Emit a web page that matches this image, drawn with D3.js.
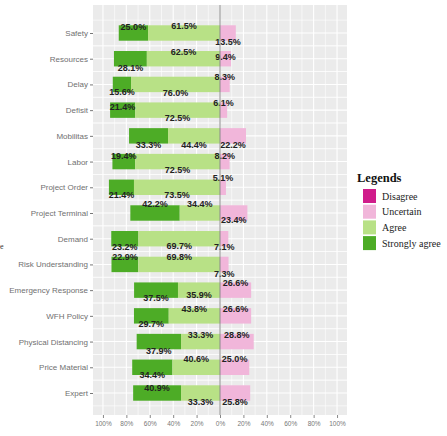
<!DOCTYPE html>
<html>
<head>
<meta charset="utf-8">
<script src="https://cdn.jsdelivr.net/npm/d3@7/dist/d3.min.js"></script>
<style>
  body { margin: 0; background: #fff; }
  svg { display: block; }
</style>
</head>
<body>
<div id="chart"></div>
<script>
// data (percent)
const categories = ["Safety", "Resources", "Delay", "Defisit", "Mobilitas", "Labor", "Project Order",
  "Project Terminal", "Demand", "Risk Understanding", "Emergency Response", "WFH Policy",
  "Physical Distancing", "Price Material", "Expert"];
const stronglyAgree = [25.0, 28.1, 15.6, 21.4, 33.3, 19.4, 21.4, 42.2, 23.2, 22.9, 37.5, 29.7, 37.9, 34.4, 40.9];
const agree         = [61.5, 62.5, 76.0, 72.5, 44.4, 72.5, 73.5, 34.4, 69.7, 69.8, 35.9, 43.8, 33.3, 40.6, 33.3];
const uncertain     = [13.5, 9.4, 8.3, 6.1, 22.2, 8.2, 5.1, 23.4, 7.1, 7.3, 26.6, 26.6, 28.8, 25.0, 25.8];
const disagree      = [0, 0, 0, 0, 0, 0, 0, 0, 0, 0, 0, 0, 0, 0, 0];
const xTicks = [-100, -80, -60, -40, -20, 0, 20, 40, 60, 80, 100];
const legendLabels = ["Disagree", "Uncertain", "Agree", "Strongly agree"];
const colors = { "Disagree": "#d01c8b", "Uncertain": "#f1b6da", "Agree": "#b8e186", "Strongly agree": "#4dac26" };

// vertical nudge of the value labels (px), per row: [strongly agree, agree, uncertain]
const labelNudge = [[-6, -7, 9], [9, -7, -2], [7, 8, -8], [-3, 8, -7], [9, 9, 9], [-6, 8, -6], [8, 8, -9],
  [-9, -9, 7], [8, 7, 8], [-8, -8, 9], [8, 5, -7], [8, -7, -7], [9, -7, -7], [8, -8, -8], [-5, 9, 9]];

const width = 447, height = 436;
const panel = { left: 93, right: 347, top: 5, bottom: 415 };

const svg = d3.select("#chart").append("svg")
  .attr("width", width)
  .attr("height", height)
  .attr("xmlns", "http://www.w3.org/2000/svg");

const x = d3.scaleLinear().domain([-108.5, 108.5]).range([panel.left, panel.right]);
const y = d3.scalePoint().domain(categories).range([33, 393]);
const step = y.step();
const barH = step * 0.6;

// panel background + grid
svg.append("rect")
  .attr("x", panel.left).attr("y", panel.top)
  .attr("width", panel.right - panel.left).attr("height", panel.bottom - panel.top)
  .attr("fill", "#ebebeb");

const grid = svg.append("g");
d3.range(-100, 101, 10).forEach(v => {
  grid.append("line")
    .attr("x1", x(v)).attr("x2", x(v))
    .attr("y1", panel.top).attr("y2", panel.bottom)
    .attr("stroke", "#fff").attr("stroke-width", v % 20 === 0 ? 1.1 : 0.6);
});
categories.forEach(c => {
  [y(c), y(c) - step / 2, y(c) + step / 2].forEach((yy, i) => {
    grid.append("line")
      .attr("x1", panel.left).attr("x2", panel.right)
      .attr("y1", yy).attr("y2", yy)
      .attr("stroke", "#fff").attr("stroke-width", i === 0 ? 1.1 : 0.6);
  });
});

// stacked segments
const rows = categories.map((c, i) => ({
  cat: c,
  segs: [
    { key: "Strongly agree", v: stronglyAgree[i], x0: -(agree[i] + stronglyAgree[i]), x1: -agree[i], nudge: labelNudge[i][0] },
    { key: "Agree", v: agree[i], x0: -agree[i], x1: 0, nudge: labelNudge[i][1] },
    { key: "Uncertain", v: uncertain[i], x0: 0, x1: uncertain[i], nudge: labelNudge[i][2] },
    { key: "Disagree", v: disagree[i], x0: uncertain[i], x1: uncertain[i] + disagree[i], nudge: 0 }
  ]
}));

const rowG = svg.selectAll(".row").data(rows).enter().append("g").attr("class", "row");
rowG.selectAll("rect")
  .data(d => d.segs.map(s => Object.assign({ cat: d.cat }, s)))
  .enter().append("rect")
  .attr("x", d => x(d.x0))
  .attr("width", d => x(d.x1) - x(d.x0))
  .attr("y", d => y(d.cat) - barH / 2)
  .attr("height", barH)
  .attr("fill", d => colors[d.key]);

// zero line
svg.append("line")
  .attr("x1", x(0)).attr("x2", x(0))
  .attr("y1", panel.top).attr("y2", panel.bottom)
  .attr("stroke", "#8a8a8a").attr("stroke-width", 1);

// value labels
rowG.selectAll("text")
  .data(d => d.segs.filter(s => s.v > 0).map(s => Object.assign({ cat: d.cat }, s)))
  .enter().append("text")
  .attr("x", d => x((d.x0 + d.x1) / 2))
  .attr("y", d => y(d.cat) + d.nudge)
  .attr("dy", "0.35em")
  .attr("text-anchor", "middle")
  .style("font-family", "'Liberation Sans', Arial, sans-serif")
  .style("font-size", "9px")
  .style("font-weight", "bold")
  .style("fill", "#222")
  .text(d => d.v.toFixed(1) + "%");

// axes
const yAxis = svg.append("g")
  .attr("transform", `translate(${panel.left},0)`)
  .call(d3.axisLeft(y).tickSize(3).tickPadding(2));
yAxis.select(".domain").remove();
yAxis.selectAll("line").attr("stroke", "#777");
yAxis.selectAll("text")
  .style("font-family", "'Liberation Sans', Arial, sans-serif")
  .style("font-size", "8px")
  .style("fill", "#707070");

const xAxis = svg.append("g")
  .attr("transform", `translate(0,${panel.bottom})`)
  .call(d3.axisBottom(x).tickValues(xTicks).tickSize(3).tickPadding(3)
    .tickFormat(d => Math.abs(d) + "%"));
xAxis.select(".domain").remove();
xAxis.selectAll("line").attr("stroke", "#888");
xAxis.selectAll("text")
  .style("font-family", "'Liberation Sans', Arial, sans-serif")
  .style("font-size", "6.5px")
  .style("fill", "#777");

// remnant of the axis title at the left edge
svg.append("text")
  .attr("x", 0).attr("y", 246)
  .attr("dy", "0.35em")
  .attr("text-anchor", "start")
  .style("font-family", "'Liberation Serif', serif")
  .style("font-size", "8px")
  .style("fill", "#333")
  .text("e");

// legend
const legend = svg.append("g").attr("transform", "translate(357,0)");
legend.append("text")
  .attr("x", 0).attr("y", 182)
  .style("font-family", "'Liberation Serif', 'Times New Roman', serif")
  .style("font-size", "12.5px")
  .style("font-weight", "bold")
  .style("fill", "#111")
  .text("Legends");
const item = legend.selectAll(".item").data(legendLabels).enter().append("g")
  .attr("class", "item")
  .attr("transform", (d, i) => `translate(6,${189 + i * 15.7})`);
item.append("rect")
  .attr("width", 13).attr("height", 14)
  .attr("fill", d => colors[d]);
item.append("text")
  .attr("x", 19).attr("y", 7)
  .attr("dy", "0.35em")
  .style("font-family", "'Liberation Serif', 'Times New Roman', serif")
  .style("font-size", "10px")
  .style("fill", "#222")
  .text(d => d);
</script>
</body>
</html>
